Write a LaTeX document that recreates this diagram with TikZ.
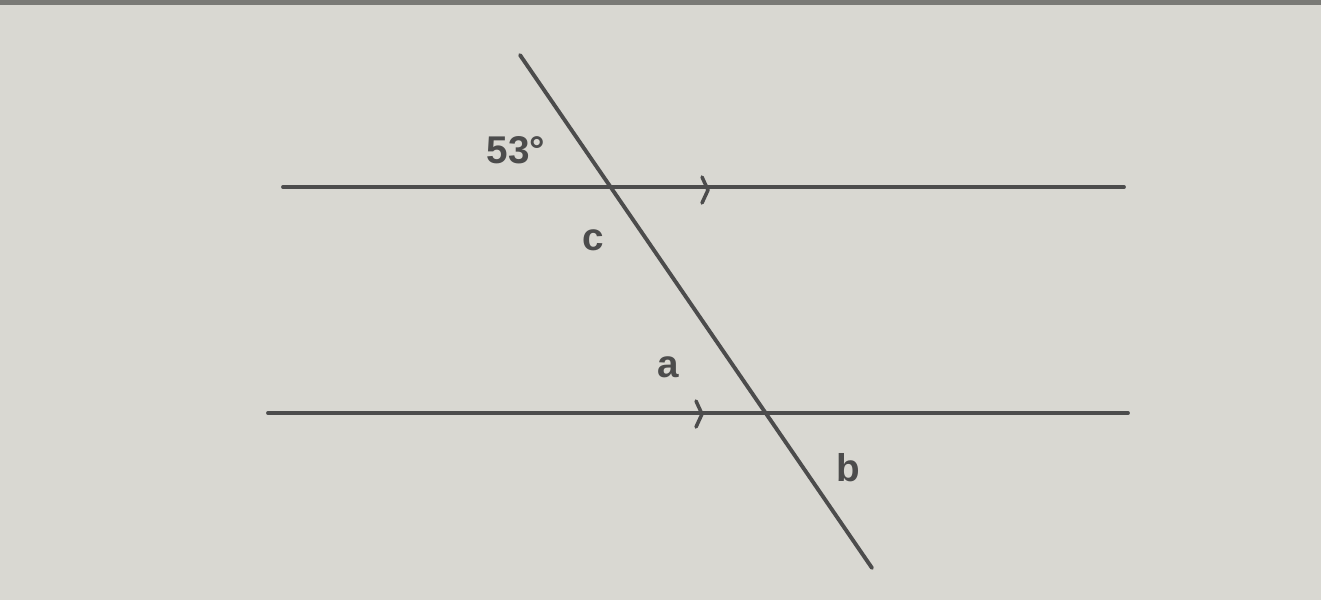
\documentclass[tikz,border=0pt]{standalone}
\usepackage{fontspec}
\setmainfont{Liberation Sans}
\definecolor{paper}{HTML}{D9D8D2}
\definecolor{ink}{HTML}{4C4C4C}
\definecolor{band}{HTML}{7A7A76}
\begin{document}
\begin{tikzpicture}[x=0.02cm,y=-0.02cm,
  line/.style={draw=ink,line width=2.2pt,line cap=round},
  chev/.style={draw=ink,line width=2pt,line cap=round,line join=round},
  lab/.style={text=ink,font=\bfseries\fontsize{22}{26}\selectfont,inner sep=0pt}]
\fill[paper] (0,0) rectangle (1321,600);
\useasboundingbox (0,0) rectangle (1321,600);
\fill[band] (0,0) rectangle (1321,5);
% lines
\coordinate (t1) at (283,187);
\coordinate (t2) at (1124,187);
\coordinate (b1) at (268,413);
\coordinate (b2) at (1128,413);
\coordinate (s1) at (520,55);
\coordinate (s2) at (872,568);
\draw[line] (t1) -- (t2);
\draw[line] (b1) -- (b2);
\draw[line] (s1) -- (s2);
% parallel marks
\coordinate (ta) at (708,190);
\coordinate (ba) at (702,414);
\draw[chev] ([shift={(-6,-13)}]ta) -- (ta) -- ([shift={(-6,13)}]ta);
\draw[chev] ([shift={(-6,-13)}]ba) -- (ba) -- ([shift={(-6,13)}]ba);
% labels
\node[lab] (l53) at (516,150) {53°};
\node[lab] (lc) at (593,240) {c};
\node[lab] (la) at (668,367) {a};
\node[lab] (lb) at (848,468) {b};
\end{tikzpicture}
\end{document}
